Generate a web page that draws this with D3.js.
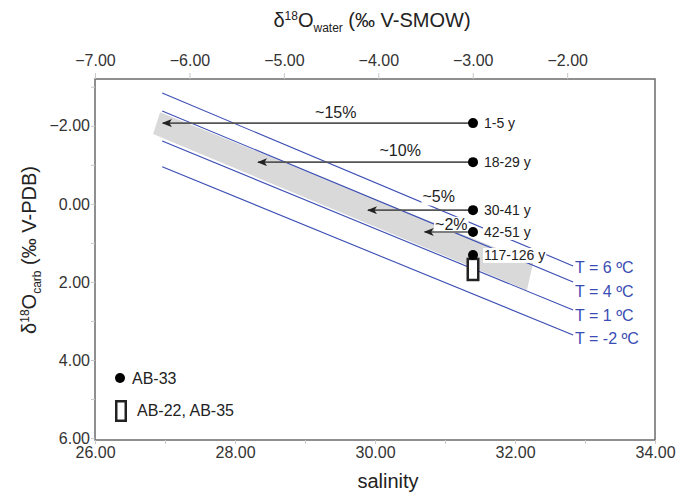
<!DOCTYPE html>
<html>
<head>
<meta charset="utf-8">
<script src="https://cdn.jsdelivr.net/npm/d3@7"></script>
<style>
  body { margin: 0; background: #fff; }
  #chart text { font-family: "Liberation Sans", Arial, sans-serif; fill: #222; }
</style>
</head>
<body>
<div id="chart"></div>
<script>
// Axis ticks
const salinityTicks = [26, 28, 30, 32, 34];
const salinityMinor = [27, 29, 31, 33];
const waterTicks = [-7, -6, -5, -4, -3, -2];
const carbTicks = [-2, 0, 2, 4, 6];
const carbMinor = [-3, -1, 1, 3, 5];

// Samples (dots) and their salinity-reduction arrows
const sampleLabels = ['1-5 y', '18-29 y', '30-41 y', '42-51 y', '117-126 y'];
const sampleSalinity = [31.4, 31.4, 31.4, 31.4, 31.4];
const sampleD18O = [-2.07, -1.07, 0.16, 0.72, 1.31];
const arrowEndSalinity = [26.97, 28.33, 29.9, 30.71];
const arrowLabels = ['~15%', '~10%', '~5%', '~2%'];
const arrowLabelSalinity = [29.44, 30.36, 30.91, 31.09];
const arrowLabelD18O = [-2.35, -1.38, -0.18, 0.52];

// AB-22, AB-35 range
const boxSalinity = 31.4;
const boxD18O = [1.41, 1.95];

// Temperature isolines
const tempLabels = ['T = 6 ºC', 'T = 4 ºC', 'T = 1 ºC', 'T = -2 ºC'];
const tempStartSalinity = 26.96;
const tempEndSalinity = 32.83;
const tempStartD18O = [-2.84, -2.38, -1.61, -0.95];
const tempEndD18O = [1.59, 2.0, 2.72, 3.36];
const tempLabelD18O = [1.62, 2.23, 2.85, 3.44];

// Grey band (polygon corners)
const bandSalinity = [26.93, 32.26, 32.17, 26.83];
const bandD18O = [-2.35, 1.51, 2.21, -1.79];

const w = 696, h = 494;
const pLeft = 95, pRight = 655, pTop = 79, pBottom = 440;
const blue = '#3a4db4';

const svg = d3.select('#chart').append('svg')
  .attr('width', w)
  .attr('height', h);

// Scales
const x = d3.scaleLinear().domain([26, 34]).range([pLeft, pRight]);
const xTop = d3.scaleLinear().domain([-7, -1.07]).range([pLeft, pRight]);
const y = d3.scaleLinear().domain([-3.2, 6.05]).range([pTop, pBottom]);

// arrow head
svg.append('defs').append('marker')
  .attr('id', 'head')
  .attr('markerUnits', 'userSpaceOnUse')
  .attr('viewBox', '0 0 10 8')
  .attr('markerWidth', 10)
  .attr('markerHeight', 8)
  .attr('refX', 9)
  .attr('refY', 4)
  .attr('orient', 'auto')
  .append('path')
  .attr('d', 'M0,0 L10,4 L0,8 L2.5,4 Z')
  .attr('fill', '#222');

// Band
const band = bandSalinity.map((s, i) => [x(s), y(bandD18O[i])]);
svg.append('path')
  .attr('d', d3.line()(band) + 'Z')
  .attr('fill', '#d9d9d9');

// Temperature lines
svg.selectAll('.iso')
  .data(tempLabels)
  .enter()
  .append('line')
  .attr('class', 'iso')
  .attr('x1', x(tempStartSalinity))
  .attr('y1', (d, i) => y(tempStartD18O[i]))
  .attr('x2', x(tempEndSalinity))
  .attr('y2', (d, i) => y(tempEndD18O[i]))
  .attr('stroke', blue)
  .attr('stroke-width', 1.1);

svg.selectAll('.isoLabel')
  .data(tempLabels)
  .enter()
  .append('text')
  .attr('class', 'isoLabel')
  .attr('x', x(tempEndSalinity) + 2)
  .attr('y', (d, i) => y(tempLabelD18O[i]))
  .attr('dy', '0.36em')
  .attr('font-size', '16px')
  .style('fill', blue)
  .text(d => d);

// Labels with white boxes (they cut the lines behind them)
function boxedLabel(tx, ty, str, anchor, size) {
  const g = svg.append('g');
  const rect = g.append('rect').attr('fill', '#fff');
  const t = g.append('text')
    .attr('x', tx)
    .attr('y', ty)
    .attr('dy', '0.35em')
    .attr('text-anchor', anchor)
    .attr('font-size', size)
    .text(str);
  const b = t.node().getBBox();
  rect.attr('x', b.x - 1).attr('y', b.y + 1).attr('width', b.width + 2).attr('height', b.height - 1);
}

sampleLabels.forEach((l, i) => boxedLabel(x(sampleSalinity[i]) + 11, y(sampleD18O[i]), l, 'start', '14px'));
arrowLabels.forEach((l, i) => boxedLabel(x(arrowLabelSalinity[i]), y(arrowLabelD18O[i]), l, 'middle', '16px'));

// Arrows
svg.selectAll('.arrow')
  .data(arrowEndSalinity)
  .enter()
  .append('line')
  .attr('class', 'arrow')
  .attr('x1', (d, i) => x(sampleSalinity[i]))
  .attr('y1', (d, i) => y(sampleD18O[i]))
  .attr('x2', d => x(d))
  .attr('y2', (d, i) => y(sampleD18O[i]))
  .attr('stroke', '#555')
  .attr('stroke-width', 1.6)
  .attr('marker-end', 'url(#head)');

// AB-22, AB-35 box
svg.append('rect')
  .attr('x', x(boxSalinity) - 5.25)
  .attr('y', y(boxD18O[0]))
  .attr('width', 10.5)
  .attr('height', y(boxD18O[1]) - y(boxD18O[0]))
  .attr('fill', '#fff')
  .attr('stroke', '#222')
  .attr('stroke-width', 2.5);

// Dots
svg.selectAll('.dot')
  .data(sampleD18O)
  .enter()
  .append('circle')
  .attr('class', 'dot')
  .attr('cx', (d, i) => x(sampleSalinity[i]))
  .attr('cy', d => y(d))
  .attr('r', 5)
  .attr('fill', '#000');

// Frame
svg.append('rect')
  .attr('x', pLeft).attr('y', pTop)
  .attr('width', pRight - pLeft).attr('height', pBottom - pTop)
  .attr('fill', 'none')
  .attr('stroke', '#6b6b6b')
  .attr('stroke-width', 1.5);

// Axes
const fmt = d3.format('.2f');
const tickColor = '#c8c8c8';

const xAxis = svg.append('g')
  .attr('transform', `translate(0, ${pBottom})`)
  .call(d3.axisBottom(x).tickValues(salinityTicks.concat(salinityMinor)).tickSize(4).tickPadding(3)
    .tickFormat(d => salinityTicks.includes(d) ? fmt(d) : ''));

const topAxis = svg.append('g')
  .attr('transform', `translate(0, ${pTop})`)
  .call(d3.axisTop(xTop).tickValues(waterTicks).tickSize(6).tickPadding(7).tickFormat(fmt));

const yAxis = svg.append('g')
  .attr('transform', `translate(${pLeft}, 0)`)
  .call(d3.axisLeft(y).tickValues(carbTicks.concat(carbMinor)).tickSize(4).tickPadding(1)
    .tickFormat(d => carbTicks.includes(d) ? fmt(d) : ''));

[xAxis, topAxis, yAxis].forEach(a => {
  a.select('.domain').remove();
  a.selectAll('line').attr('stroke', tickColor);
  a.selectAll('text').attr('font-size', '16px').attr('font-family', null).style('fill', '#333');
});

// Axis titles
svg.append('text')
  .attr('x', 388)
  .attr('y', 488)
  .attr('text-anchor', 'middle')
  .attr('font-size', '20px')
  .text('salinity');

const tt = svg.append('text')
  .attr('x', 372)
  .attr('y', 27)
  .attr('text-anchor', 'middle')
  .attr('font-size', '20px');
tt.append('tspan').text('δ');
tt.append('tspan').attr('font-size', '12px').attr('dy', -7).text('18');
tt.append('tspan').attr('dy', 7).text('O');
tt.append('tspan').attr('font-size', '12px').attr('dy', 5).text('water');
tt.append('tspan').attr('dy', -5).text(' (‰ V-SMOW)');

const lt = svg.append('text')
  .attr('transform', 'rotate(-90)')
  .attr('x', -250)
  .attr('y', 36)
  .attr('text-anchor', 'middle')
  .attr('font-size', '20px');
lt.append('tspan').text('δ');
lt.append('tspan').attr('font-size', '12px').attr('dy', -7).text('18');
lt.append('tspan').attr('dy', 7).text('O');
lt.append('tspan').attr('font-size', '12px').attr('dy', 5).text('carb');
lt.append('tspan').attr('dy', -5).text(' (‰ V-PDB)');

// Legend
svg.append('circle').attr('cx', 120).attr('cy', 378).attr('r', 5).attr('fill', '#000');
svg.append('text').attr('x', 132).attr('y', 378).attr('dy', '0.35em').attr('font-size', '16px').text('AB-33');
svg.append('rect')
  .attr('x', 116.25).attr('y', 401.25).attr('width', 9.5).attr('height', 19.5)
  .attr('fill', '#fff').attr('stroke', '#222').attr('stroke-width', 2.5);
svg.append('text').attr('x', 137).attr('y', 410).attr('dy', '0.35em').attr('font-size', '16px').text('AB-22, AB-35');
</script>
</body>
</html>
